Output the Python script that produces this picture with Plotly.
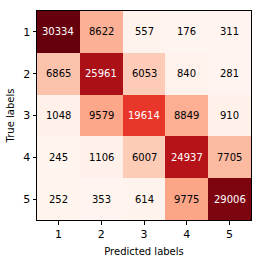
import plotly.graph_objects as go

labels = [1, 2, 3, 4, 5]
matrix = [
    [30334, 8622, 557, 176, 311],
    [6865, 25961, 6053, 840, 281],
    [1048, 9579, 19614, 8849, 910],
    [245, 1106, 6007, 24937, 7705],
    [252, 353, 614, 9775, 29006],
]

reds = ["#fff5f0", "#fee0d2", "#fcbba1", "#fc9272", "#fb6a4a",
        "#ef3b2c", "#cb181d", "#a50f15", "#67000d"]
colorscale = [[i / (len(reds) - 1), c] for i, c in enumerate(reds)]

flat = [v for row in matrix for v in row]
zmin, zmax = min(flat), max(flat)
thresh = zmax / 2

fig = go.Figure(go.Heatmap(
    z=matrix, x=labels, y=labels,
    colorscale=colorscale, zmin=zmin, zmax=zmax,
    showscale=False, xgap=0, ygap=0,
))

for i, row in enumerate(matrix):
    for j, v in enumerate(row):
        fig.add_annotation(
            x=labels[j], y=labels[i], text=str(v), showarrow=False,
            font=dict(family="DejaVu Sans", size=10,
                      color="white" if v > thresh else "black"),
        )

axis_common = dict(
    type="linear",
    showline=True, linecolor="black", linewidth=1, mirror=True,
    ticks="outside", ticklen=3.5, tickcolor="black",
    tickvals=labels, ticktext=[str(l) for l in labels],
    tickfont=dict(family="DejaVu Sans", size=11, color="black"),
    showgrid=False, zeroline=False,
)
fig.update_xaxes(title=dict(text="Predicted labels", standoff=8,
                            font=dict(family="DejaVu Sans", size=10, color="black")),
                 range=[labels[0] - 0.5, labels[-1] + 0.5], **axis_common)
fig.update_yaxes(title=dict(text="True labels", standoff=6,
                            font=dict(family="DejaVu Sans", size=10, color="black")),
                 range=[labels[-1] + 0.5, labels[0] - 0.5], **axis_common)

fig.update_layout(
    width=262, height=266,
    margin=dict(l=35, r=10, t=10, b=38),
    paper_bgcolor="white", plot_bgcolor="white",
)

fig.write_html("out.html")
